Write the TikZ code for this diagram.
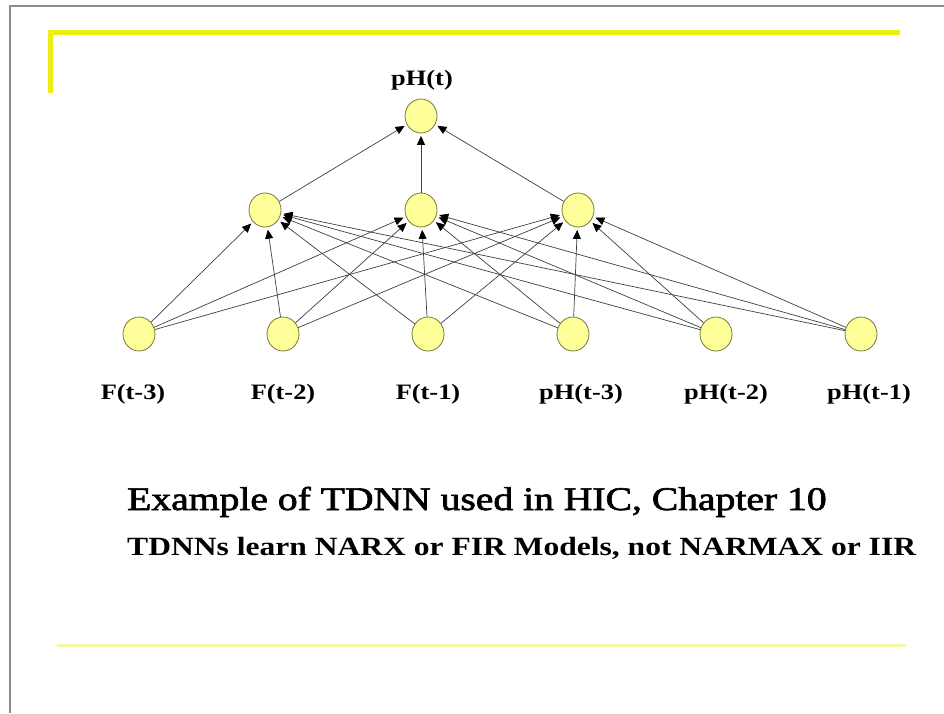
\documentclass[tikz,border=0pt]{standalone}
\usepackage{fontspec}
\setmainfont{Liberation Serif}
\newfontfamily\captionfont[FakeBold=1.8]{Liberation Serif}
\usetikzlibrary{arrows.meta,shapes.geometric}
\definecolor{nodefill}{RGB}{255,255,153}
\definecolor{nodeedge}{RGB}{120,120,60}
\definecolor{baryellow}{RGB}{238,238,20}
\definecolor{paleyellow}{RGB}{244,247,170}
\definecolor{framegray}{RGB}{140,140,140}
\newcommand\widetext[1]{\scalebox{1.2}[1]{#1}}
\tikzset{
  neuron/.style={ellipse, draw=nodeedge, line width=0.8pt, fill=nodefill,
    minimum width=32pt, minimum height=34pt, inner sep=0pt},
  lbl/.style={anchor=base, inner sep=0pt, font=\fontsize{22}{24}\selectfont\bfseries},
  link/.style={draw=black!75, line width=0.7pt,
    -{Triangle[length=9pt,width=8pt,color=black]}, shorten >=2.5pt}
}
\begin{document}
\begin{tikzpicture}[x=1pt,y=-1pt]
  \useasboundingbox (0,0) rectangle (944,713);
  \fill[white] (0,0) rectangle (944,713);
  % slide frame
  \draw[framegray, line width=2pt] (10,713) -- (10,6) -- (944,6);
  % yellow accent bars
  \draw[baryellow, line width=5pt] (50,93) -- (50,32) -- (900,32);
  \draw[paleyellow, line width=3pt] (57,645) -- (906,645);

  % output layer
  \node[neuron] (o) at (421,116) {};
  \node[lbl] (lo) at (422,85) {\widetext{pH(t)}};

  % hidden layer
  \node[neuron] (h1) at (265,210) {};
  \node[neuron] (h2) at (421,210) {};
  \node[neuron] (h3) at (578,210) {};

  % input layer
  \node[neuron] (i1) at (139,334) {};
  \node[neuron] (i2) at (283,334) {};
  \node[neuron] (i3) at (428,334) {};
  \node[neuron] (i4) at (573,334) {};
  \node[neuron] (i5) at (716,334) {};
  \node[neuron] (i6) at (861,334) {};

  \node[lbl] (l1) at (133,399) {\widetext{F(t-3)}};
  \node[lbl] (l2) at (283,399) {\widetext{F(t-2)}};
  \node[lbl] (l3) at (428,399) {\widetext{F(t-1)}};
  \node[lbl] (l4) at (581,399) {\widetext{pH(t-3)}};
  \node[lbl] (l5) at (726,399) {\widetext{pH(t-2)}};
  \node[lbl] (l6) at (869,399) {\widetext{pH(t-1)}};

  % connections
  \foreach \i in {1,...,6}
    \foreach \h in {1,2,3}
      \draw[link] (i\i) -- (h\h);
  \foreach \h in {1,2,3}
    \draw[link] (h\h) -- (o);

  % caption
  \node[anchor=base west, inner sep=0pt, font=\fontsize{33}{36}\captionfont]
    (c1) at (127,510) {\widetext{Example of TDNN used in HIC, Chapter 10}};
  \node[anchor=base west, inner sep=0pt, font=\fontsize{26.3}{30}\selectfont\bfseries]
    (c2) at (127,555) {\widetext{TDNNs learn NARX or FIR Models, not NARMAX or IIR}};
\end{tikzpicture}
\end{document}
